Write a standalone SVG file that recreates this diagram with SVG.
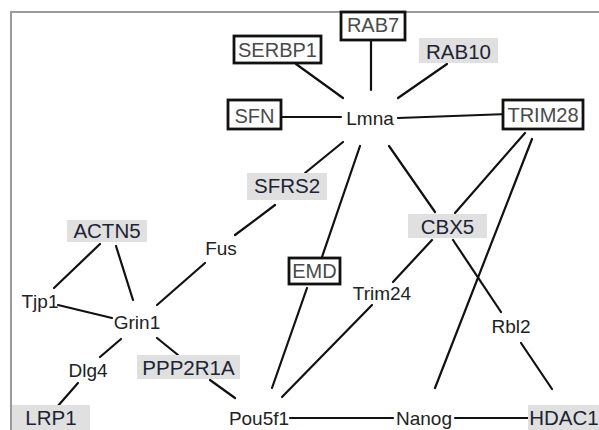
<svg xmlns="http://www.w3.org/2000/svg" width="599" height="430" viewBox="0 0 599 430">
<style>
.bg{fill:#ffffff}
.frame{stroke:#9a9a9a;stroke-width:2;fill:none}
.e{stroke:#111;stroke-width:2.2;fill:none;stroke-linecap:round}
.bx{fill:#fff;stroke:#111;stroke-width:2.8}
.gr{fill:#e0e0e0;stroke:none}
text{font-family:"Liberation Sans",Arial,sans-serif;text-anchor:middle}
.t{font-size:19px;fill:#222}
.tb{font-size:20px;fill:#4a4a4a}
.tg{font-size:20.5px;fill:#1c2433}
</style>
<rect class="bg" x="0" y="0" width="599" height="430"/>
<path class="frame" d="M11,430 V12 H599"/>
<g id="connectors">
<line class="e" x1="296" y1="64" x2="343" y2="98"/>
<line class="e" x1="371" y1="40" x2="371" y2="90"/>
<line class="e" x1="447" y1="64" x2="398" y2="98"/>
<line class="e" x1="281" y1="117" x2="341" y2="117"/>
<line class="e" x1="398" y1="118" x2="508" y2="114"/>
<line class="e" x1="343" y1="142" x2="305" y2="173"/>
<line class="e" x1="360" y1="146" x2="322" y2="257"/>
<line class="e" x1="307" y1="288" x2="272" y2="388"/>
<line class="e" x1="389" y1="146" x2="435" y2="212"/>
<line class="e" x1="525" y1="133" x2="455" y2="213"/>
<line class="e" x1="532" y1="139" x2="435" y2="388"/>
<line class="e" x1="432" y1="240" x2="393" y2="282"/>
<line class="e" x1="453" y1="240" x2="501" y2="312"/>
<line class="e" x1="521" y1="343" x2="552" y2="389"/>
<line class="e" x1="372" y1="305" x2="282" y2="397"/>
<line class="e" x1="290" y1="418" x2="393" y2="418"/>
<line class="e" x1="455" y1="418" x2="528" y2="418"/>
<line class="e" x1="275" y1="205" x2="235" y2="235"/>
<line class="e" x1="205" y1="263" x2="157" y2="305"/>
<line class="e" x1="100" y1="244" x2="54" y2="288"/>
<line class="e" x1="116" y1="246" x2="133" y2="300"/>
<line class="e" x1="58" y1="305" x2="112" y2="318"/>
<line class="e" x1="121" y1="339" x2="100" y2="357"/>
<line class="e" x1="157" y1="338" x2="178" y2="355"/>
<line class="e" x1="78" y1="383" x2="57" y2="407"/>
<line class="e" x1="210" y1="380" x2="235" y2="398"/>
</g>
<g id="SERBP1"><rect class="bx" x="234" y="36" width="87" height="27"/><text class="tb" x="277.5" y="57">SERBP1</text></g>
<g id="RAB7"><rect class="bx" x="341" y="12" width="64" height="28"/><text class="tb" x="373" y="32">RAB7</text></g>
<g id="RAB10"><rect class="gr" x="419" y="38" width="79" height="25"/><text class="tg" x="458.5" y="59">RAB10</text></g>
<g id="SFN"><rect class="bx" x="228" y="100" width="53" height="29"/><text class="tb" x="254.5" y="123">SFN</text></g>
<g id="Lmna"><text class="t" x="370" y="125">Lmna</text></g>
<g id="TRIM28"><rect class="bx" x="503" y="100" width="80" height="29"/><text class="tb" x="543" y="122">TRIM28</text></g>
<g id="SFRS2"><rect class="gr" x="247" y="173" width="80" height="27"/><text class="tg" x="287" y="193">SFRS2</text></g>
<g id="CBX5"><rect class="gr" x="408" y="214" width="79" height="24"/><text class="tg" x="447.5" y="234">CBX5</text></g>
<g id="EMD"><rect class="bx" x="289" y="258" width="51" height="26"/><text class="tb" x="314.5" y="278">EMD</text></g>
<g id="Fus"><text class="t" x="221" y="255">Fus</text></g>
<g id="ACTN5"><rect class="gr" x="67" y="220" width="80" height="22"/><text class="tg" x="107" y="238">ACTN5</text></g>
<g id="Tjp1"><text class="t" x="40" y="308">Tjp1</text></g>
<g id="Grin1"><text class="t" x="137" y="329">Grin1</text></g>
<g id="Dlg4"><text class="t" x="88" y="377">Dlg4</text></g>
<g id="PPP2R1A"><rect class="gr" x="137" y="355" width="103" height="24"/><text class="tg" x="188.5" y="375">PPP2R1A</text></g>
<g id="LRP1"><rect class="gr" x="12" y="405" width="78" height="25"/><text class="tg" x="51" y="425">LRP1</text></g>
<g id="Pou5f1"><text class="t" x="259" y="425">Pou5f1</text></g>
<g id="Nanog"><text class="t" x="424" y="425">Nanog</text></g>
<g id="HDAC1"><rect class="gr" x="528" y="405" width="71" height="25"/><text class="tg" x="564" y="425">HDAC1</text></g>
<g id="Trim24"><text class="t" x="382" y="300">Trim24</text></g>
<g id="Rbl2"><text class="t" x="511" y="333">Rbl2</text></g>
</svg>
